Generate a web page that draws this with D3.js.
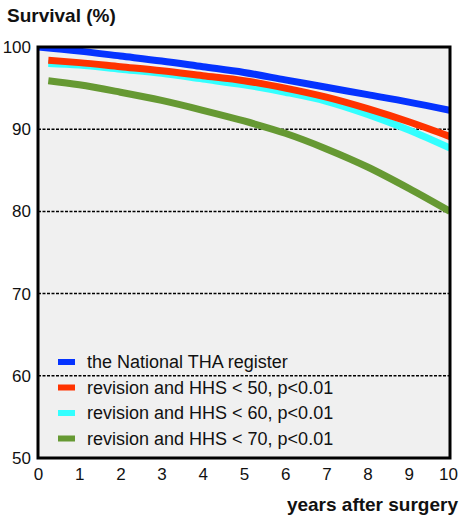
<!DOCTYPE html>
<html>
<head>
<meta charset="utf-8">
<script src="https://cdn.jsdelivr.net/npm/d3@7"></script>
<style>
  body { margin: 0; background: #fff; }
  svg text { font-family: "Liberation Sans", Arial, sans-serif; fill: #111; }
</style>
</head>
<body>
<svg id="chart" width="459" height="517"></svg>
<script>
// values
var years = [0, 1, 2, 3, 4, 5, 6, 7, 8, 9, 10];
var yearsLate = [0.25, 1, 2, 3, 4, 5, 6, 7, 8, 9, 10];
var registerVals = [100, 99.5, 98.9, 98.3, 97.6, 96.9, 96.0, 95.1, 94.2, 93.3, 92.3];
var hhs50Vals = [98.4, 98.1, 97.6, 97.1, 96.5, 95.9, 95.0, 93.9, 92.5, 90.9, 89.1];
var hhs60Vals = [98.0, 97.8, 97.3, 96.8, 96.1, 95.4, 94.5, 93.4, 91.8, 89.9, 87.7];
var hhs70Vals = [95.9, 95.4, 94.5, 93.5, 92.3, 91.0, 89.5, 87.6, 85.4, 82.8, 80.0];
var seriesNames = ["the National THA register", "revision and HHS < 50, p<0.01",
                   "revision and HHS < 60, p<0.01", "revision and HHS < 70, p<0.01"];
var seriesColors = ["#0533ff", "#ff3300", "#33ffff", "#669933"];
var xTicks = [0, 1, 2, 3, 4, 5, 6, 7, 8, 9, 10];
var yTicks = [50, 60, 70, 80, 90, 100];
var gridVals = [60, 70, 80, 90];

var svg = d3.select("svg#chart");

let margin = { top: 47, left: 38, right: 9, bottom: 59 };
let plotWidth = 459 - margin.left - margin.right;
let plotHeight = 517 - margin.top - margin.bottom;

let x = d3.scaleLinear().domain([0, 10]).range([0, plotWidth]);
let y = d3.scaleLinear().domain([50, 100]).range([plotHeight, 0]);

let plot = svg.append("g")
    .attr("transform", "translate(" + margin.left + "," + margin.top + ")");

plot.append("rect")
    .attr("width", plotWidth)
    .attr("height", plotHeight)
    .attr("fill", "#f0f0f0");

svg.append("defs").append("clipPath").attr("id", "clip")
    .append("rect").attr("width", plotWidth).attr("height", plotHeight);

// dashed gridlines
plot.selectAll("line.grid")
    .data(gridVals)
    .enter().append("line")
    .attr("class", "grid")
    .attr("x1", 0).attr("x2", plotWidth)
    .attr("y1", d => y(d)).attr("y2", d => y(d))
    .attr("stroke", "#000")
    .attr("stroke-width", 1.5)
    .attr("stroke-dasharray", "3,1.5");

// curves
let series = [
    { xs: years, vals: registerVals },
    { xs: yearsLate, vals: hhs50Vals },
    { xs: yearsLate, vals: hhs60Vals },
    { xs: yearsLate, vals: hhs70Vals }
];

let line = d3.line()
    .x(d => x(d[0]))
    .y(d => y(d[1]))
    .curve(d3.curveMonotoneX);

let curves = plot.append("g").attr("clip-path", "url(#clip)");
// draw green first so the upper lines sit on top
[3, 2, 1, 0].forEach(function (i) {
    let pts = series[i].xs.map((t, j) => [t, series[i].vals[j]]);
    curves.append("path")
        .attr("d", line(pts))
        .attr("fill", "none")
        .attr("stroke", seriesColors[i])
        .attr("stroke-width", 7);
});

// frame
plot.append("rect")
    .attr("width", plotWidth)
    .attr("height", plotHeight)
    .attr("fill", "none")
    .attr("stroke", "#000")
    .attr("stroke-width", 3);

// axes tick labels
let xAxis = d3.axisBottom(x).tickValues(xTicks).tickSize(0).tickPadding(10);
let xGroup = plot.append("g")
    .attr("transform", "translate(0," + plotHeight + ")")
    .call(xAxis);
xGroup.select(".domain").remove();
xGroup.selectAll("text")
    .style("font-size", "17px")
    .attr("dy", null)
    .attr("y", 22)
    .attr("fill", "#111");
xGroup.selectAll("text").filter(d => d === 10).attr("dx", -2);

let yAxis = d3.axisLeft(y).tickValues(yTicks).tickSize(0).tickPadding(7);
let yGroup = plot.append("g").call(yAxis);
yGroup.select(".domain").remove();
yGroup.selectAll("text")
    .style("font-size", "17px")
    .attr("fill", "#111");

// legend
let legend = plot.append("g").attr("transform", "translate(20,315)");
seriesNames.forEach(function (name, i) {
    let row = legend.append("g").attr("transform", "translate(0," + (i * 25.5) + ")");
    row.append("rect")
        .attr("x", 0).attr("y", -3)
        .attr("width", 17).attr("height", 6)
        .attr("fill", seriesColors[i]);
    row.append("text")
        .attr("x", 29).attr("y", 6)
        .style("font-size", "18px")
        .text(name);
});

// titles
svg.append("text")
    .attr("x", 7).attr("y", 22)
    .style("font-size", "19px")
    .style("font-weight", "bold")
    .text("Survival (%)");

svg.append("text")
    .attr("x", 458).attr("y", 511)
    .style("text-anchor", "end")
    .style("font-size", "19px")
    .style("font-weight", "bold")
    .text("years after surgery");
</script>
</body>
</html>
